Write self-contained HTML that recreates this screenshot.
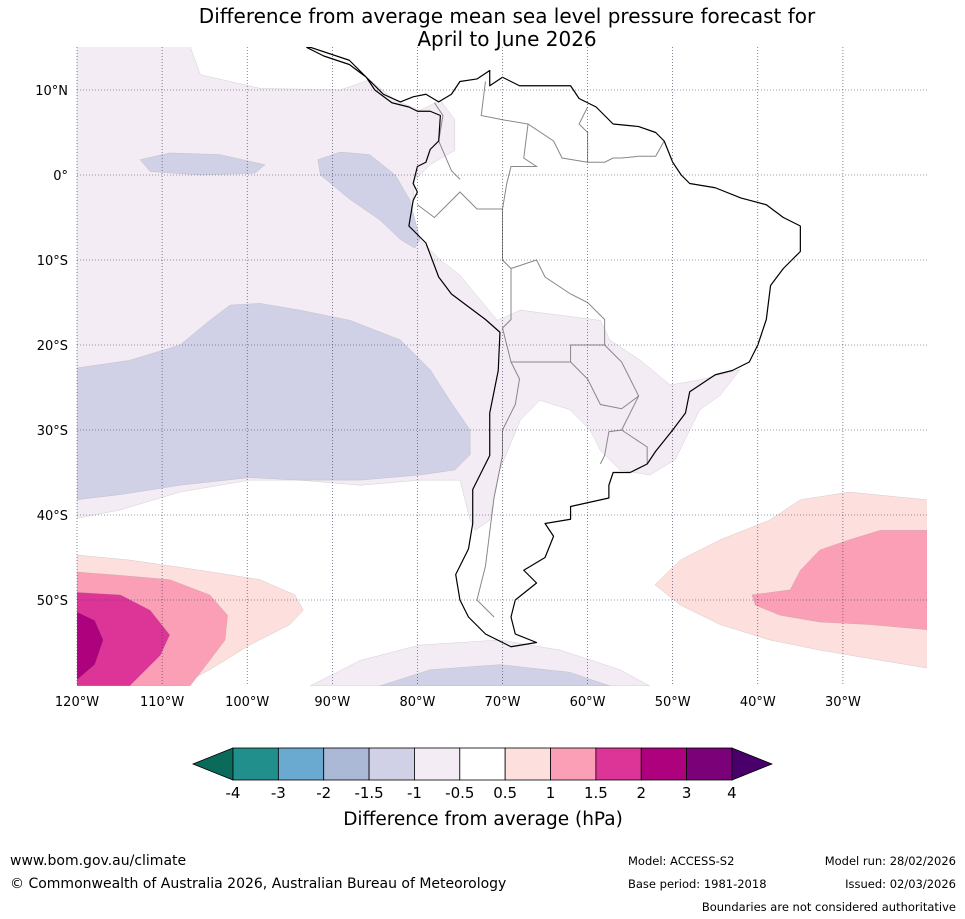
<!DOCTYPE html>
<html><head><meta charset="utf-8"><style>
body{margin:0;background:#fff;width:965px;height:919px;overflow:hidden;font-family:"DejaVu Sans","Liberation Sans",sans-serif}
svg{position:absolute;left:0;top:0}
</style></head><body>
<svg width="965" height="919">
<text x="507" y="23" font-size="20" text-anchor="middle">Difference from average mean sea level pressure forecast for</text>
<text x="507" y="46" font-size="20" text-anchor="middle">April to June 2026</text>
<g id="map"></g>
<g id="cbar"></g>
<text x="483" y="825" font-size="18.5" text-anchor="middle">Difference from average (hPa)</text>
<text x="10" y="865" font-size="14">www.bom.gov.au/climate</text>
<text x="10" y="888" font-size="14">© Commonwealth of Australia 2026, Australian Bureau of Meteorology</text>
<text x="628" y="865" font-size="11.5">Model: ACCESS-S2</text>
<text x="628" y="888" font-size="11.5">Base period: 1981-2018</text>
<text x="956" y="865" font-size="11.5" text-anchor="end">Model run: 28/02/2026</text>
<text x="956" y="888" font-size="11.5" text-anchor="end">Issued: 02/03/2026</text>
<text x="956" y="911" font-size="11.5" text-anchor="end">Boundaries are not considered authoritative</text>
</svg>
<script>
const NS='http://www.w3.org/2000/svg';
const lonTicks=[-120,-110,-100,-90,-80,-70,-60,-50,-40,-30];
const latTicks=[10,0,-10,-20,-30,-40,-50];
const levels=['-4','-3','-2','-1.5','-1','-0.5','0.5','1','1.5','2','3','4'];
const levelColors=['#21908d','#6aa9d0','#abb9d7','#d0d1e6','#f4ecf4','#ffffff','#fde0dd','#fa9fb5','#dd3497','#ae017e','#7a0177'];
const px=[[77,47],[190,47],[200,75],[260,88],[340,90],[370,80],[395,100],[420,110],[440,100],[455,120],[455,150],[430,165],[415,180],[412,210],[420,240],[440,260],[460,275],[480,300],[497,320],[520,310],[560,315],[600,320],[610,340],[640,360],[670,385],[700,380],[740,370],[720,395],[700,410],[690,430],[675,460],[650,475],[620,470],[600,450],[590,430],[570,410],[540,400],[520,420],[500,470],[490,520],[475,530],[470,520],[460,480],[420,480],[360,485],[300,480],[250,480],[180,492],[120,510],[77,518]];
function toLL(a){return a.map(p=>[+(-120+(p[0]-77)/8.51).toFixed(1),+((175-p[1])/8.5).toFixed(1)]);}
const contours=[
 [4,toLL(px)],
 [3,toLL([[77,368],[130,360],[180,345],[210,320],[230,305],[260,303],[300,310],[350,320],[400,340],[430,370],[450,400],[470,430],[470,455],[455,470],[420,475],[360,480],[300,480],[250,478],[180,485],[120,495],[77,500]])],
 [3,toLL([[318,160],[340,152],[370,155],[395,175],[410,200],[420,240],[415,248],[400,240],[380,220],[350,200],[320,175]])],
 [3,toLL([[140,160],[170,153],[220,155],[265,165],[255,173],[200,175],[150,172]])],
 [4,toLL([[310,686],[360,660],[420,645],[500,640],[560,650],[620,670],[650,686]])],
 [3,toLL([[380,686],[430,670],[500,665],[570,672],[610,686]])],
 [6,toLL([[77,555],[130,560],[200,570],[260,580],[295,595],[303,610],[290,625],[250,645],[210,670],[180,686],[77,686]])],
 [7,toLL([[77,572],[120,575],[170,580],[210,595],[228,615],[225,640],[210,660],[190,686],[77,686]])],
 [8,toLL([[77,592],[120,595],[150,610],[170,635],[160,655],[130,686],[77,686]])],
 [9,toLL([[77,612],[95,620],[103,640],[95,665],[77,680]])],
 [6,toLL([[655,585],[680,560],[720,540],[770,520],[800,500],[850,492],[900,497],[927,500],[927,668],[880,660],[820,650],[770,640],[720,625],[680,605]])],
 [7,toLL([[752,595],[790,590],[800,570],[820,550],[850,540],[880,530],[927,530],[927,630],[870,625],[820,622],[780,615],[755,605]])]
];
const coast=[[-92.5,15],[-88,13.5],[-86,11.5],[-84,9.5],[-82,8.6],[-80.5,9.2],[-79,9.5],[-77.5,8.6],[-76,9.5],[-75,11],[-73,11.3],[-71.5,12.3],[-71.5,10.5],[-70,11.5],[-68,10.5],[-64,10.5],[-62,10.5],[-61,9],[-59,8],[-57,6],[-54,5.7],[-52,5],[-51,4],[-50,1.5],[-49,0],[-48,-1],[-45,-1.5],[-42,-2.7],[-39,-3.5],[-37,-5],[-35,-6],[-35,-9],[-37,-11],[-38.5,-13],[-39,-17],[-40,-20],[-41,-22],[-43,-23],[-45,-23.5],[-48,-25.5],[-48.5,-28],[-50,-30],[-52,-32.5],[-53,-34],[-55,-35],[-57,-35],[-57.5,-36.5],[-57.5,-38],[-62,-39],[-62,-40.5],[-65,-41],[-64,-42.5],[-65,-45],[-67.5,-46.5],[-66,-48],[-68.5,-50],[-69,-52],[-68.5,-54],[-66,-55],[-69,-55.5],[-72,-54],[-74,-52],[-75,-50],[-75.5,-47],[-74,-44],[-73.5,-41],[-73.5,-37],[-71.5,-33],[-71.5,-28],[-70.5,-23],[-70.3,-18.5],[-72,-17],[-76,-14],[-77.5,-12],[-79,-8],[-81,-6],[-80.5,-3],[-80,-2],[-80.5,-1],[-80,1],[-79,1.5],[-78.5,3],[-77.5,4],[-77.3,7],[-78.5,7.5],[-80,7.5],[-81,8],[-83,8.5],[-85,10],[-86,11.5],[-88,13],[-91,14],[-93,15]];
const borders=[
 [[-70,-18],[-69,-22],[-68,-24],[-68.5,-27],[-70,-30],[-70,-33],[-71,-38],[-71.5,-42],[-72,-46],[-73,-50],[-71,-52]],
 [[-80,-3.5],[-78,-5],[-75,-2],[-73,-4],[-70,-4],[-70,-10],[-69,-11],[-69,-14],[-69,-17],[-70,-18]],
 [[-69,-11],[-66,-10],[-65,-12],[-62,-14],[-60,-15],[-58,-17],[-58,-20],[-62,-20],[-62,-22],[-65,-22],[-67,-22],[-69,-22]],
 [[-58,-20],[-56,-22],[-55,-24],[-54,-26],[-56,-27.5],[-58.5,-27],[-60,-24],[-62,-22]],
 [[-54,-26],[-56,-30],[-57.5,-30.2],[-58,-33],[-58.5,-34]],
 [[-56,-30],[-53,-32],[-53,-34]],
 [[-72,11],[-72.5,7],[-70,6.5],[-67,6],[-67.5,2],[-66,1],[-69,1],[-69.5,-1],[-70,-4]],
 [[-60,8],[-61,6],[-60,5],[-60,1.5],[-58,1.5],[-57,2],[-56,2],[-54,2.2],[-52,2.2],[-51,4]],
 [[-67,6],[-64,4],[-63,2],[-60,1.5]],
 [[-78,8.5],[-77,7],[-77.5,4],[-76,0.5],[-75,-0.5]]
];
const X=l=>77+(l+120)*8.51, Y=l=>175-l*8.5;
const map=document.getElementById('map');
function el(t,a,p){const e=document.createElementNS(NS,t);for(const k in a)e.setAttribute(k,a[k]);(p||map).appendChild(e);return e;}
const clip=el('clipPath',{id:'mc'});el('rect',{x:77,y:47,width:850,height:639},clip);
const g=el('g',{'clip-path':'url(#mc)'});
contours.forEach((c,i)=>{
 const p=el('polygon',{points:c[1].map(q=>X(q[0])+','+Y(q[1])).join(' '),fill:levelColors[c[0]],stroke:'#999',"stroke-width":0.4,"stroke-opacity":0.5},g);
 
 
});
borders.forEach(b=>{
 const p=el('polyline',{points:b.map(q=>X(q[0])+','+Y(q[1])).join(' '),fill:'none',stroke:'#888','stroke-width':1},g);
 
 
});
const cp=el('polygon',{points:coast.map(q=>X(q[0])+','+Y(q[1])).join(' '),fill:'none',stroke:'#000','stroke-width':1.2,'stroke-linejoin':'round'},g);


lonTicks.forEach(l=>{
 const ln=el('line',{x1:X(l),x2:X(l),y1:47,y2:686,stroke:'#335',"stroke-width":0.6,"stroke-dasharray":'1,2'});
 
 
 const t=el('text',{x:X(l),y:706,'font-size':13,'text-anchor':'middle'});t.textContent=(-l)+'°W';
 
 
});
latTicks.forEach(l=>{
 const ln=el('line',{x1:77,x2:927,y1:Y(l),y2:Y(l),stroke:'#335',"stroke-width":0.6,"stroke-dasharray":'1,2'});
 
 
 const t=el('text',{x:68,y:Y(l)+5,'font-size':13,'text-anchor':'end'});t.textContent=l===0?'0°':Math.abs(l)+'°'+(l>0?'N':'S');
 
 
});
const cb=document.getElementById('cbar');
const x0=233,w=45.36,y0=748,h=32;
const lt=el('polygon',{points:`193,764 ${x0},${y0} ${x0},${y0+h}`,fill:'#0a6b5b',stroke:'#000','stroke-width':0.8},cb);


levelColors.forEach((c,i)=>{
 const r=el('rect',{x:x0+i*w,y:y0,width:w,height:h,fill:c,stroke:'#000','stroke-width':0.8},cb);
 
 
});
const xe=x0+levelColors.length*w;
const rt=el('polygon',{points:`${xe},${y0} ${xe+40},764 ${xe},${y0+h}`,fill:'#49006a',stroke:'#000','stroke-width':0.8},cb);


levels.forEach((v,i)=>{
 const t=el('text',{x:x0+i*w,y:798,'font-size':15,'text-anchor':'middle'},cb);t.textContent=v;
 
 
});
</script>
</body></html>
